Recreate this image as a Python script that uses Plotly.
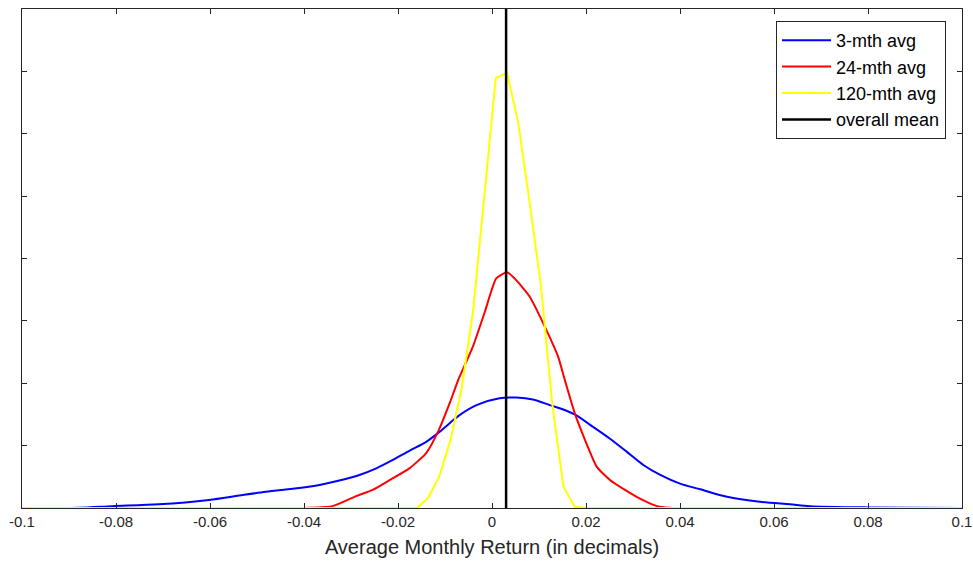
import plotly.graph_objects as go

# 3-month average density
blue_x = [-0.1, -0.0879, -0.0808, -0.0709, -0.0602, -0.0538, -0.0481, -0.0410, -0.0367, -0.0325,
          -0.0282, -0.0245, -0.0211, -0.0175, -0.0140, -0.0115, -0.0090, -0.0069, -0.0033, 0.0016,
          0.0052, 0.0087, 0.0123, 0.0144, 0.0176, 0.0215, 0.0251, 0.0287, 0.0322, 0.0358,
          0.0400, 0.0443, 0.0500, 0.0570, 0.0634, 0.0677, 0.0801, 0.1]
blue_y = [0.0, 0.05, 0.3, 0.6, 1.3, 2.0, 2.6, 3.2, 3.7, 4.4,
          5.3, 6.4, 7.7, 9.2, 10.6, 12.0, 13.6, 14.9, 16.5, 17.6,
          17.7, 17.4, 16.5, 16.0, 15.0, 13.0, 11.1, 9.0, 6.9, 5.3,
          3.9, 3.0, 1.8, 1.0, 0.6, 0.3, 0.1, 0.0]

# 24-month average density
red_x = [-0.1, -0.0389, -0.0339, -0.0289, -0.0254, -0.0215, -0.0175, -0.0140, -0.0115, -0.0090,
         -0.0072, -0.0040, -0.0015, 0.0009, 0.0032, 0.0052, 0.0080, 0.0109, 0.0141, 0.0155,
         0.0176, 0.0198, 0.0223, 0.0251, 0.0283, 0.0315, 0.0351, 0.0379, 0.1]
red_y = [0.0, 0.05, 0.3, 1.9, 2.9, 4.6, 6.4, 8.8, 12.2, 16.8,
         20.5, 26.0, 31.5, 36.8, 37.8, 36.5, 33.9, 29.6, 24.2, 20.5,
         15.2, 10.9, 6.6, 4.5, 2.9, 1.5, 0.3, 0.05, 0.0]

# 120-month average density
yellow_x = [-0.1, -0.016, -0.0136, -0.0112, -0.0088, -0.0064, -0.004, -0.0016, 0.0008, 0.0032,
            0.0056, 0.008, 0.0104, 0.0128, 0.0152, 0.0176, 0.02, 0.1]
yellow_y = [0.0, 0.0, 1.6, 5.1, 11.0, 19.4, 31.7, 49.9, 68.9, 69.8,
            61.7, 49.0, 35.7, 16.8, 3.4, 0.2, 0.0, 0.0]

overall_mean = 0.003
y_max = 80

x_ticks = [-0.1, -0.08, -0.06, -0.04, -0.02, 0, 0.02, 0.04, 0.06, 0.08, 0.1]
x_tick_labels = ["-0.1", "-0.08", "-0.06", "-0.04", "-0.02", "0", "0.02", "0.04", "0.06", "0.08", "0.1"]

FONT = "Arial, 'Liberation Sans', Helvetica, sans-serif"
AX = "#262626"

fig = go.Figure()
fig.add_trace(go.Scatter(x=blue_x, y=blue_y, mode="lines", name="3-mth avg",
                         line=dict(color="#0000ff", width=2, shape="spline", smoothing=0.8)))
fig.add_trace(go.Scatter(x=red_x, y=red_y, mode="lines", name="24-mth avg",
                         line=dict(color="#ff0000", width=2, shape="spline", smoothing=0.5)))
fig.add_trace(go.Scatter(x=yellow_x, y=yellow_y, mode="lines", name="120-mth avg",
                         line=dict(color="#ffff00", width=2)))
fig.add_trace(go.Scatter(x=[overall_mean, overall_mean], y=[0, y_max], mode="lines",
                         name="overall mean", line=dict(color="#000000", width=2.5)))

fig.update_layout(
    width=973, height=563,
    margin=dict(l=22, r=11, t=9, b=55, autoexpand=False),
    paper_bgcolor="white", plot_bgcolor="white",
    font=dict(family=FONT, color=AX),
    showlegend=True,
    legend=dict(x=0.983, y=0.976, xanchor="right", yanchor="top",
                bgcolor="white", bordercolor=AX, borderwidth=1,
                font=dict(size=18, family=FONT, color="#000000"),
                itemwidth=49, tracegroupgap=0),
    xaxis=dict(range=[-0.1, 0.1], tickvals=x_ticks, ticktext=x_tick_labels,
               ticks="inside", ticklen=5, tickcolor=AX, showline=True, linecolor=AX,
               linewidth=1, mirror="ticks", showgrid=False, zeroline=False, automargin=False,
               ticklabeloverflow="allow",
               tickfont=dict(size=15, family=FONT, color=AX),
               title=dict(text="Average Monthly Return (in decimals)",
                          font=dict(size=20, family=FONT, color=AX), standoff=10)),
    yaxis=dict(range=[0, y_max], dtick=10, tick0=0, ticks="inside", ticklen=5,
               tickcolor=AX, showline=True, linecolor=AX, linewidth=1, mirror="ticks",
               showgrid=False, zeroline=False, showticklabels=False, automargin=False),
)

fig.write_html(
    "out.html",
    config={"displayModeBar": False},
    post_script="document.body.style.margin='0';document.body.style.overflow='hidden';",
)
